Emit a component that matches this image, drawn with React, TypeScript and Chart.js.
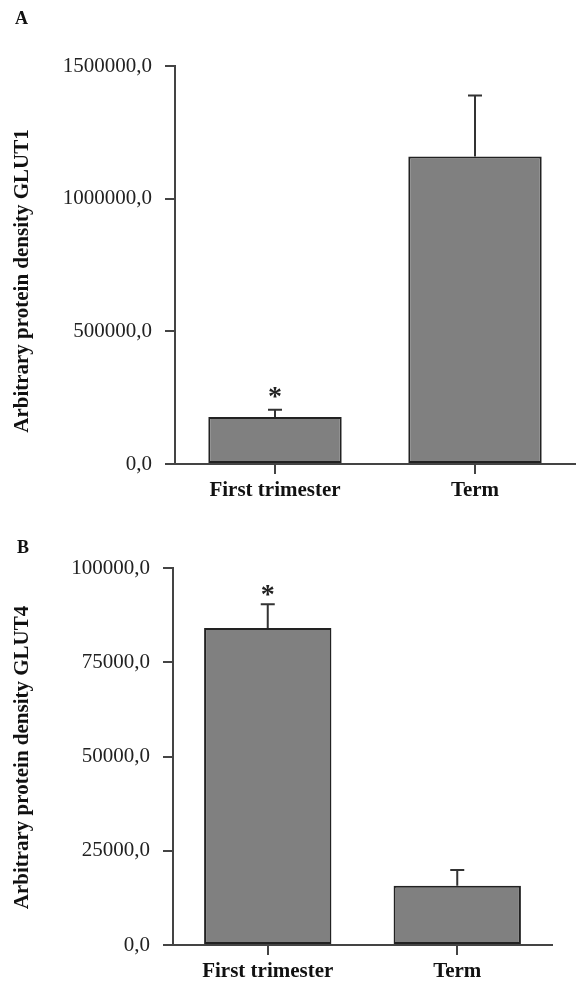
import React, { useEffect, useRef } from "react";
import { Chart, registerables } from "chart.js";

Chart.register(...registerables);

const categories = ["First trimester", "Term"];

const glut1Means = [177000, 1159000];
const glut1Sem = [27000, 230000];
const glut1Sig = ["*", ""];
const glut1Max = 1500000;
const glut1Step = 500000;

const glut4Means = [84100, 15700];
const glut4Sem = [6300, 4200];
const glut4Sig = ["*", ""];
const glut4Max = 100000;
const glut4Step = 25000;

const SERIF = '"Liberation Serif", "Times New Roman", serif';

const fmt = (v: number) => v.toFixed(1).replace(".", ",");

const errorBarPlugin = {
  id: "errorBars",
  afterDatasetsDraw(chart: any, _args: any, opts: any) {
    const { ctx } = chart;
    const meta = chart.getDatasetMeta(0);
    const y = chart.scales.y;
    ctx.save();
    meta.data.forEach((bar: any, i: number) => {
      const mean = opts.means[i];
      const top = y.getPixelForValue(mean + opts.sem[i]);
      const base = y.getPixelForValue(mean);
      ctx.strokeStyle = "#333";
      ctx.lineWidth = 2;
      ctx.beginPath();
      ctx.moveTo(bar.x, base);
      ctx.lineTo(bar.x, top);
      ctx.moveTo(bar.x - 7, top);
      ctx.lineTo(bar.x + 7, top);
      ctx.stroke();
      if (opts.sig[i]) {
        ctx.fillStyle = "#222";
        ctx.font = `bold 28px ${SERIF}`;
        ctx.textAlign = "center";
        ctx.textBaseline = "alphabetic";
        ctx.fillText(opts.sig[i], bar.x, top + opts.starGap);
      }
    });
    ctx.restore();
  },
};

const labelsPlugin = {
  id: "panelLabels",
  afterDraw(chart: any, _args: any, opts: any) {
    const { ctx, chartArea } = chart;
    ctx.save();
    ctx.fillStyle = "#111";
    ctx.font = `bold 18px ${SERIF}`;
    ctx.textAlign = "left";
    ctx.textBaseline = "alphabetic";
    ctx.fillText(opts.panel, opts.panelX, opts.panelY);
    const cy = (chartArea.top + chartArea.bottom) / 2 + opts.titleOffset;
    ctx.translate(opts.titleX, cy);
    ctx.rotate(-Math.PI / 2);
    ctx.font = `bold 21px ${SERIF}`;
    ctx.textAlign = "center";
    ctx.textBaseline = "middle";
    ctx.fillText(opts.title, 0, 0);
    ctx.restore();
  },
};

type PanelProps = {
  means: number[];
  sem: number[];
  sig: string[];
  max: number;
  step: number;
  height: number;
  yWidth: number;
  xHeight: number;
  padTop: number;
  padRight: number;
  panel: string;
  panelX: number;
  panelY: number;
  title: string;
  titleOffset: number;
  starGap: number;
  barPct: number;
};

function Panel(p: PanelProps) {
  const ref = useRef<HTMLCanvasElement | null>(null);
  useEffect(() => {
    if (!ref.current) return;
    const axisColor = "#444";
    const chart = new Chart(ref.current, {
      type: "bar",
      data: {
        labels: categories,
        datasets: [
          {
            data: p.means,
            backgroundColor: "#808080",
            borderColor: "#222",
            borderWidth: 2,
            borderSkipped: false,
            barPercentage: p.barPct,
            categoryPercentage: 1,
          },
        ],
      },
      plugins: [errorBarPlugin, labelsPlugin],
      options: {
        responsive: false,
        animation: false,
        layout: { padding: { left: 0, right: p.padRight, top: p.padTop, bottom: 0 } },
        plugins: {
          legend: { display: false },
          tooltip: { enabled: false },
          errorBars: { means: p.means, sem: p.sem, sig: p.sig, starGap: p.starGap },
          panelLabels: {
            panel: p.panel,
            panelX: p.panelX,
            panelY: p.panelY,
            title: p.title,
            titleX: 23,
            titleOffset: p.titleOffset,
          },
        } as any,
        scales: {
          x: {
            offset: true,
            grid: {
              offset: false,
              drawOnChartArea: false,
              drawTicks: true,
              tickLength: 10,
              color: axisColor,
              lineWidth: 2,
            },
            border: { display: true, color: axisColor, width: 2 },
            ticks: {
              padding: 4,
              color: "#111",
              font: { family: SERIF, size: 21, weight: "bold" },
            },
            afterFit: (s: any) => {
              s.height = p.xHeight;
            },
          },
          y: {
            min: 0,
            max: p.max,
            grid: {
              drawOnChartArea: false,
              drawTicks: true,
              tickLength: 10,
              color: axisColor,
              lineWidth: 2,
            },
            border: { display: true, color: axisColor, width: 2 },
            ticks: {
              stepSize: p.step,
              padding: 13,
              color: "#222",
              font: { family: SERIF, size: 21 },
              callback: (v: any) => fmt(Number(v)),
            },
            afterFit: (s: any) => {
              s.width = p.yWidth;
            },
          },
        },
      } as any,
    });
    return () => chart.destroy();
  }, []);
  return (
    <canvas
      ref={ref}
      width={577}
      height={p.height}
      style={{ display: "block", width: 577, height: p.height }}
    />
  );
}

export default function App() {
  return (
    <div
      style={{
        position: "absolute",
        left: 0,
        top: 0,
        width: 577,
        height: 982,
        background: "#fff",
      }}
    >
      <Panel
        means={glut1Means}
        sem={glut1Sem}
        sig={glut1Sig}
        max={glut1Max}
        step={glut1Step}
        height={505}
        yWidth={175}
        xHeight={41}
        padTop={66}
        padRight={2}
        panel="A"
        panelX={15}
        panelY={24}
        title="Arbitrary protein density GLUT1"
        titleOffset={16}
        starGap={-5}
        barPct={0.667}
      />
      <Panel
        means={glut4Means}
        sem={glut4Sem}
        sig={glut4Sig}
        max={glut4Max}
        step={glut4Step}
        height={477}
        yWidth={173}
        xHeight={37}
        padTop={63}
        padRight={25}
        panel="B"
        panelX={17}
        panelY={48}
        title="Arbitrary protein density GLUT4"
        titleOffset={1}
        starGap={-1}
        barPct={0.672}
      />
    </div>
  );
}
